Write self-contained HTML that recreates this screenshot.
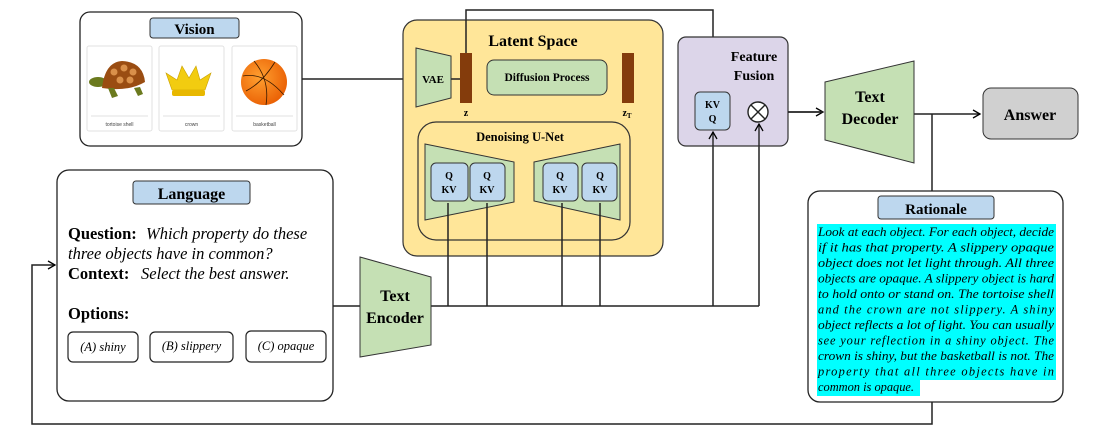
<!DOCTYPE html>
<html><head><meta charset="utf-8"><style>
body{margin:0;background:#fff;}
svg{display:block;font-family:"Liberation Serif",serif;}
</style></head><body>
<svg width="1112" height="432" viewBox="0 0 1112 432" xmlns="http://www.w3.org/2000/svg">
<defs>
<marker id="a" markerWidth="10" markerHeight="10" refX="8" refY="5" orient="auto" markerUnits="userSpaceOnUse">
<path d="M1,1 L8,5 L1,9" fill="none" stroke="#000" stroke-width="1.3"/></marker>
<radialGradient id="ball" cx="0.4" cy="0.4" r="0.7"><stop offset="0" stop-color="#ffa030"/><stop offset="1" stop-color="#e85a00"/></radialGradient>
</defs>
<g stroke="#222" stroke-width="1.5" fill="none">
<line x1="302" y1="79" x2="416" y2="79"/>
<polyline points="466,53 466,10 713,10 713,90" marker-end="url(#a)"/>
<line x1="472" y1="79" x2="487" y2="79"/>
<line x1="607" y1="79" x2="622" y2="79"/>
<polyline points="634,79 651,79 651,181 632,181" marker-end="url(#a)"/>
<line x1="431" y1="306" x2="759" y2="306"/>
<line x1="448" y1="306" x2="448" y2="203" marker-end="url(#a)"/>
<line x1="487" y1="306" x2="487" y2="203" marker-end="url(#a)"/>
<line x1="562" y1="306" x2="562" y2="203" marker-end="url(#a)"/>
<line x1="600" y1="306" x2="600" y2="203" marker-end="url(#a)"/>
<line x1="713" y1="306" x2="713" y2="132" marker-end="url(#a)"/>
<line x1="759" y1="306" x2="759" y2="124" marker-end="url(#a)"/>
<line x1="333" y1="306" x2="360" y2="306"/>
<line x1="730" y1="112" x2="746" y2="112" marker-end="url(#a)"/>
<line x1="769" y1="112" x2="823" y2="112" marker-end="url(#a)"/>
<line x1="914" y1="114" x2="980" y2="114" marker-end="url(#a)"/>
<line x1="932" y1="114" x2="932" y2="191"/>
<polyline points="932,402 932,424 32,424 32,265 55,265" marker-end="url(#a)"/>
</g>
<rect x="80" y="12" width="222" height="134" rx="10" fill="#fff" stroke="#222" stroke-width="1.3"/>
<rect x="150" y="18" width="89" height="20" rx="3" fill="#BDD7EE" stroke="#333"/>
<text x="194.5" y="34" text-anchor="middle" font-weight="bold" font-size="15">Vision</text>
<g fill="#fff" stroke="#e2e2e2"><rect x="87" y="46" width="65" height="85" rx="2"/><rect x="159" y="46" width="65" height="85" rx="2"/><rect x="232" y="46" width="65" height="85" rx="2"/></g>
<g stroke="#e2e2e2"><line x1="91" y1="116" x2="148" y2="116"/><line x1="163" y1="116" x2="220" y2="116"/><line x1="236" y1="116" x2="293" y2="116"/></g>
<g font-family="Liberation Sans" font-size="5" fill="#444" text-anchor="middle"><text x="119.5" y="126">tortoise shell</text><text x="191.5" y="126">crown</text><text x="264.5" y="126">basketball</text></g>
<ellipse cx="98" cy="82" rx="9" ry="5" fill="#6b7a1e"/><path d="M102,88 Q105,62 122,61 Q143,62 145,82 Q128,92 102,88Z" fill="#9a4d12"/>
<g fill="#d9904a"><circle cx="114" cy="72" r="3.5"/><circle cx="124" cy="68" r="3.5"/><circle cx="133" cy="72" r="3.5"/><circle cx="120" cy="80" r="3.5"/><circle cx="130" cy="80" r="3.5"/></g>
<path d="M108,88 L112,98 L118,96 L114,88Z M134,88 L138,96 L143,94 L140,87Z" fill="#6b7a1e"/>
<path d="M166,73 L172,90 L205,90 L211,73 L200,80 L196,66 L189,78 L182,66 L177,80Z" fill="#f2cc10" stroke="#c9a000" stroke-width="0.6"/>
<rect x="172" y="90" width="33" height="6" rx="2" fill="#e8b800"/>
<circle cx="264" cy="82" r="23" fill="url(#ball)"/>
<g stroke="#3a1a00" stroke-width="0.8" fill="none"><path d="M243,76 Q264,72 284,95"/><path d="M254,61 Q270,80 266,105"/><path d="M246,91 Q262,83 275,62"/></g>
<rect x="57" y="170" width="276" height="231" rx="12" fill="#fff" stroke="#222" stroke-width="1.3"/>
<rect x="133" y="181" width="117" height="23" rx="3" fill="#BDD7EE" stroke="#333"/>
<text x="191.5" y="199" text-anchor="middle" font-weight="bold" font-size="16">Language</text>
<g font-size="16.5">
<text x="68" y="239"><tspan font-weight="bold">Question:</tspan><tspan font-style="italic" x="146">Which property do these</tspan></text>
<text x="68" y="259" font-style="italic">three objects have in common?</text>
<text x="68" y="279"><tspan font-weight="bold">Context:</tspan><tspan font-style="italic" x="141">Select the best  answer.</tspan></text>
<text x="68" y="319" font-weight="bold">Options:</text>
</g>
<g fill="#fff" stroke="#222" stroke-width="1.2"><rect x="68" y="332" width="70" height="30" rx="5"/><rect x="150" y="332" width="83" height="30" rx="5"/><rect x="246" y="331" width="80" height="31" rx="5"/></g>
<g font-size="12.5" font-style="italic" text-anchor="middle"><text x="103" y="351">(A) shiny</text><text x="191.5" y="350">(B) slippery</text><text x="286" y="350">(C) opaque</text></g>
<polygon points="360,257 431,277 431,345 360,357" fill="#C5E0B4" stroke="#333"/>
<text x="395" y="301" text-anchor="middle" font-weight="bold" font-size="16">Text</text>
<text x="395" y="323" text-anchor="middle" font-weight="bold" font-size="16">Encoder</text>
<rect x="403" y="20" width="260" height="236" rx="14" fill="#FFE699" stroke="#333" stroke-width="1.2"/>
<text x="533" y="46" text-anchor="middle" font-weight="bold" font-size="16">Latent Space</text>
<polyline points="466,53 466,20" stroke="#222" stroke-width="1.5"/>
<line x1="451" y1="79" x2="460" y2="79" stroke="#222" stroke-width="1.5"/>
<polygon points="416,48 451,56 451,98 416,107" fill="#C5E0B4" stroke="#333"/>
<text x="433" y="83" text-anchor="middle" font-weight="bold" font-size="11">VAE</text>
<rect x="460" y="53" width="12" height="50" fill="#843C0C"/>
<rect x="622" y="53" width="12" height="50" fill="#843C0C"/>
<text x="466" y="116" text-anchor="middle" font-weight="bold" font-size="10">z</text>
<text x="627" y="116" text-anchor="middle" font-weight="bold" font-size="10">z<tspan font-size="7" dy="2">T</tspan></text>
<rect x="487" y="60" width="120" height="35" rx="7" fill="#C5E0B4" stroke="#333"/>
<text x="547" y="81" text-anchor="middle" font-weight="bold" font-size="11.5">Diffusion Process</text>
<rect x="418" y="122" width="212" height="118" rx="18" fill="none" stroke="#333" stroke-width="1.2"/>
<text x="520" y="141" text-anchor="middle" font-weight="bold" font-size="12.5">Denoising U-Net</text>
<polygon points="425,144 514,162 514,202 425,220" fill="#C5E0B4" stroke="#333"/>
<polygon points="534,162 620,144 620,220 534,201" fill="#C5E0B4" stroke="#333"/>
<g fill="#BDD7EE" stroke="#333"><rect x="431" y="163" width="37" height="38" rx="5"/><rect x="470" y="163" width="35" height="38" rx="5"/><rect x="543" y="163" width="35" height="38" rx="5"/><rect x="582" y="163" width="35" height="38" rx="5"/></g>
<g font-weight="bold" font-size="10" text-anchor="middle">
<text x="449" y="179">Q</text><text x="449" y="193">KV</text>
<text x="487" y="179">Q</text><text x="487" y="193">KV</text>
<text x="560" y="179">Q</text><text x="560" y="193">KV</text>
<text x="600" y="179">Q</text><text x="600" y="193">KV</text></g>
<g stroke="#222" stroke-width="1.5"><line x1="448" y1="256" x2="448" y2="203"/><line x1="487" y1="256" x2="487" y2="203"/><line x1="562" y1="256" x2="562" y2="203"/><line x1="600" y1="256" x2="600" y2="203"/></g>
<rect x="678" y="37" width="110" height="109" rx="8" fill="#DCD5E9" stroke="#333" stroke-width="1.2"/>
<text x="754" y="61" text-anchor="middle" font-weight="bold" font-size="14">Feature</text>
<text x="754" y="80" text-anchor="middle" font-weight="bold" font-size="14">Fusion</text>
<rect x="695" y="92" width="35" height="38" rx="5" fill="#BDD7EE" stroke="#333"/>
<text x="712.5" y="108" text-anchor="middle" font-weight="bold" font-size="10">KV</text>
<text x="712.5" y="122" text-anchor="middle" font-weight="bold" font-size="10">Q</text>
<g stroke="#222" stroke-width="1.4"><line x1="713" y1="146" x2="713" y2="132" marker-end="url(#a)"/><line x1="759" y1="146" x2="759" y2="124" marker-end="url(#a)"/><line x1="788" y1="112" x2="823" y2="112"/>
<circle cx="758" cy="112" r="10" fill="#fff"/><line x1="751" y1="105" x2="765" y2="119"/><line x1="765" y1="105" x2="751" y2="119"/></g>
<polygon points="825,82 914,61 914,163 825,140" fill="#C5E0B4" stroke="#333"/>
<text x="870" y="102" text-anchor="middle" font-weight="bold" font-size="16">Text</text>
<text x="870" y="124" text-anchor="middle" font-weight="bold" font-size="16">Decoder</text>
<rect x="983" y="88" width="95" height="51" rx="8" fill="#D0D0D0" stroke="#333"/>
<text x="1030" y="120" text-anchor="middle" font-weight="bold" font-size="16">Answer</text>
<rect x="808" y="191" width="255" height="211" rx="12" fill="#fff" stroke="#222" stroke-width="1.3"/>
<rect x="878" y="196" width="116" height="23" rx="3" fill="#BDD7EE" stroke="#333"/>
<text x="936" y="214" text-anchor="middle" font-weight="bold" font-size="15">Rationale</text>
<rect x="817" y="224" width="239" height="172" fill="#00FFFF"/>
<rect x="920" y="380" width="136" height="16" fill="#fff"/>
<g font-size="12.4" font-style="italic" lengthAdjust="spacingAndGlyphs">
<text x="818" y="236" textLength="236" lengthAdjust="spacingAndGlyphs">Look at each object. For each object, decide</text>
<text x="818" y="251.5" textLength="236" lengthAdjust="spacingAndGlyphs">if it has that property. A slippery opaque</text>
<text x="818" y="267" textLength="236" lengthAdjust="spacingAndGlyphs">object does not let light through. All three</text>
<text x="818" y="282.5" textLength="236" lengthAdjust="spacingAndGlyphs">objects are opaque. A slippery object is hard</text>
<text x="818" y="298" textLength="236" lengthAdjust="spacingAndGlyphs">to hold onto or stand on. The tortoise shell</text>
<text x="818" y="313.5" textLength="236">and the crown are not slippery. A shiny</text>
<text x="818" y="329" textLength="236" lengthAdjust="spacingAndGlyphs">object reflects a lot of light. You can usually</text>
<text x="818" y="344.5" textLength="236">see your reflection in a shiny object.  The</text>
<text x="818" y="360" textLength="236" lengthAdjust="spacingAndGlyphs">crown is shiny, but the basketball is not. The</text>
<text x="818" y="375.5" textLength="236">property that all three objects have in</text>
<text x="818" y="391">common is opaque.</text>
</g>
</svg>
</body></html>
